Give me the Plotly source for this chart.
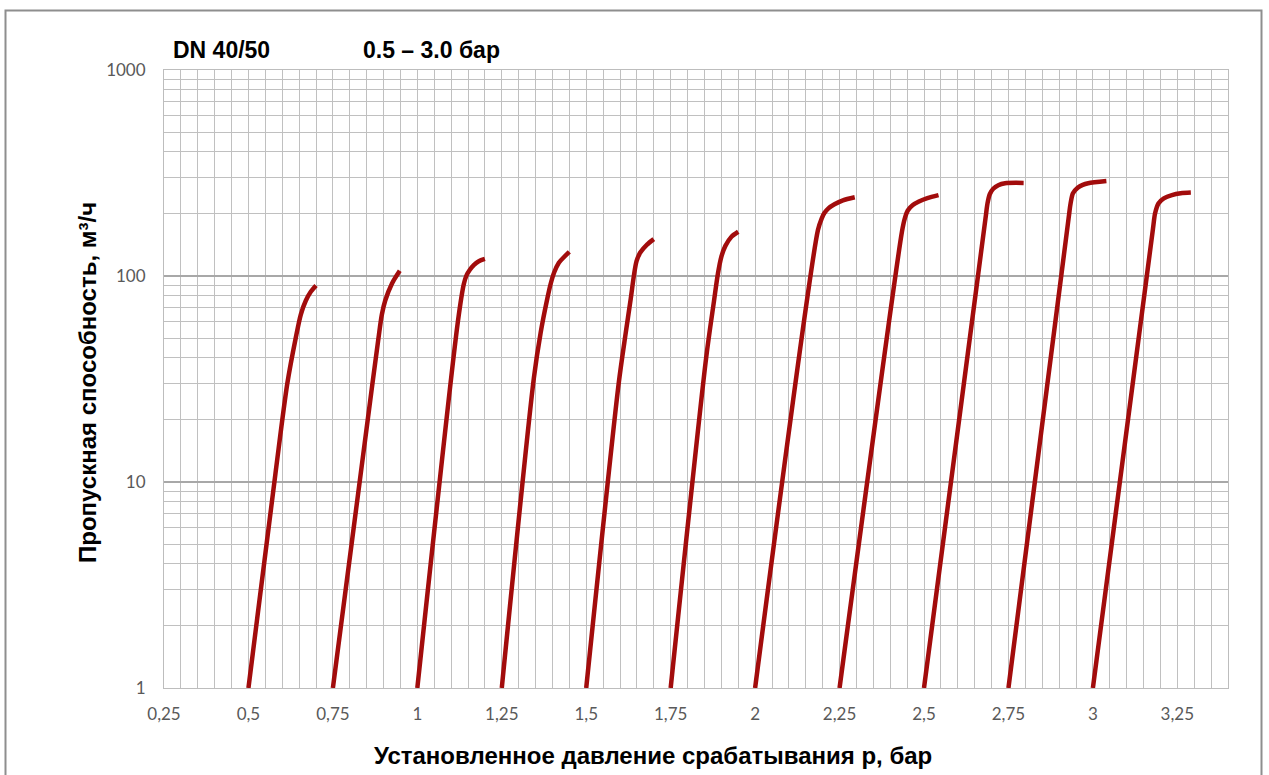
import plotly.graph_objects as go

# ---- data ----
set_pressures = [0.5, 0.75, 1.0, 1.25, 1.5, 1.75, 2.0, 2.25, 2.5, 2.75, 3.0]

x_050 = [0.50, 0.580, 0.615, 0.640, 0.655, 0.670, 0.685, 0.700]
y_050 = [1, 11, 30, 50, 65, 76, 84, 90]

x_075 = [0.75, 0.867, 0.885, 0.895, 0.905, 0.925, 0.948]
y_075 = [1, 30, 50, 65, 76, 92, 106]

x_100 = [1.00, 1.120, 1.138, 1.146, 1.155, 1.167, 1.182, 1.200]
y_100 = [1, 60, 92, 101, 107, 113, 118, 121]

x_125 = [1.25, 1.345, 1.365, 1.385, 1.395, 1.405, 1.419, 1.435, 1.450]
y_125 = [1, 32, 53, 78, 92, 104, 116, 124, 131]

x_150 = [1.50, 1.596, 1.617, 1.632, 1.641, 1.649, 1.660, 1.680, 1.700]
y_150 = [1, 30, 53, 78, 100, 118, 130, 142, 151]

x_175 = [1.75, 1.855, 1.878, 1.890, 1.900, 1.912, 1.930, 1.950]
y_175 = [1, 40, 75, 103, 124, 140, 155, 164]

x_200 = [2.00, 2.186, 2.197, 2.205, 2.217, 2.235, 2.260, 2.295]
y_200 = [1, 167, 190, 202, 213, 223, 233, 241]

x_225 = [2.25, 2.435, 2.443, 2.452, 2.467, 2.485, 2.510, 2.543]
y_225 = [1, 165, 190, 208, 221, 230, 239, 247]

x_250 = [2.50, 2.682, 2.688, 2.695, 2.705, 2.720, 2.740, 2.795]
y_250 = [1, 190, 225, 250, 265, 276, 282, 283]

x_275 = [2.75, 2.928, 2.934, 2.941, 2.955, 2.970, 2.986, 3.040]
y_275 = [1, 190, 225, 252, 268, 277, 282, 289]

x_300 = [3.00, 3.178, 3.184, 3.194, 3.210, 3.234, 3.260, 3.290]
y_300 = [1, 170, 201, 225, 238, 247, 252, 254]

curves_x = [x_050, x_075, x_100, x_125, x_150, x_175, x_200, x_225, x_250, x_275, x_300]
curves_y = [y_050, y_075, y_100, y_125, y_150, y_175, y_200, y_225, y_250, y_275, y_300]

x_tick_vals = [0.25, 0.5, 0.75, 1.0, 1.25, 1.5, 1.75, 2.0, 2.25, 2.5, 2.75, 3.0, 3.25]
x_tick_text = ["0,25", "0,5", "0,75", "1", "1,25", "1,5", "1,75", "2", "2,25", "2,5", "2,75", "3", "3,25"]
y_tick_vals = [1, 10, 100, 1000]
y_tick_text = ["1", "10", "100", "1000"]

title_left = "DN 40/50"
title_right = "0.5 – 3.0 бар"
x_title = "Установленное давление срабатывания р, бар"
y_title = "Пропускная способность, м³/ч"

# ---- figure ----
W, H = 1269, 775
L, R, T, B = 164, 41, 70, 87
pw, ph = W - L - R, H - T - B

def px_x(p):
    return (p - L) / pw

def px_y(p):
    return (H - B - p) / ph

LINE_COLOR = "#A20C0C"
fig = go.Figure()
for sp, xs, ys in zip(set_pressures, curves_x, curves_y):
    fig.add_trace(go.Scatter(
        x=xs, y=ys, mode="lines", name=str(sp),
        line=dict(color=LINE_COLOR, width=4.5, shape="spline", smoothing=0.8),
        showlegend=False, hoverinfo="x+y",
    ))

minor_x = [round(0.25 + 0.05 * i, 2) for i in range(64)]
minor_y = [m * d for d in (1, 10, 100) for m in range(2, 10)]

GRID = "#c0c0c0"
TICKFONT = dict(family="Lato, Carlito, sans-serif", size=17, color="#595959")
fig.update_xaxes(
    range=[0.25, 3.4], tickmode="array", tickvals=x_tick_vals, ticktext=x_tick_text,
    showgrid=True, gridcolor=GRID, gridwidth=1,
    minor=dict(tickmode="array", tickvals=minor_x, showgrid=True, gridcolor=GRID, gridwidth=1),
    ticks="outside", ticklen=11, tickcolor="rgba(0,0,0,0)",
    tickfont=TICKFONT,
    showline=True, mirror=True, linecolor="#bdbdbd", linewidth=1, zeroline=False,
)
fig.update_yaxes(
    type="log", range=[0, 3], tickmode="array", tickvals=y_tick_vals, ticktext=y_tick_text,
    showgrid=True, gridcolor="#a8a8a8", gridwidth=2,
    minor=dict(tickmode="array", tickvals=minor_y, showgrid=True, gridcolor=GRID, gridwidth=1),
    ticks="outside", ticklen=14, tickcolor="rgba(0,0,0,0)",
    tickfont=TICKFONT,
    showline=True, mirror=True, linecolor="#bdbdbd", linewidth=1, zeroline=False,
)

TFONT = dict(family="Liberation Sans, Arial, sans-serif", size=23, color="#000000")
AFONT = dict(family="Liberation Sans, Arial, sans-serif", size=24, color="#000000")
annotations = [
    dict(text="<b>%s</b>" % title_left, x=px_x(171), y=px_y(50), xanchor="left", yanchor="middle", font=TFONT),
    dict(text="<b>%s</b>" % title_right, x=px_x(361), y=px_y(50), xanchor="left", yanchor="middle", font=TFONT),
    dict(text="<b>%s</b>" % x_title, x=px_x(653), y=px_y(755), xanchor="center", yanchor="middle", font=AFONT),
    dict(text="<b>%s</b>" % y_title, x=px_x(88), y=px_y(383), xanchor="center", yanchor="middle",
         textangle=-90, font=AFONT),
]
for a in annotations:
    a.update(xref="paper", yref="paper", showarrow=False)

fig.update_layout(
    width=W, height=H,
    margin=dict(l=L, r=R, t=T, b=B, autoexpand=False),
    paper_bgcolor="white", plot_bgcolor="white",
    annotations=annotations,
    shapes=[dict(type="rect", xref="paper", yref="paper",
                 x0=px_x(5.5), x1=px_x(1261.5), y0=px_y(790), y1=px_y(10.5),
                 line=dict(color="#8e8e8e", width=2), fillcolor="rgba(0,0,0,0)", layer="below")],
)

fig.write_html(
    "out.html",
    config={"displayModeBar": False},
    post_script="document.body.style.margin='0';document.body.style.overflow='hidden';",
)
